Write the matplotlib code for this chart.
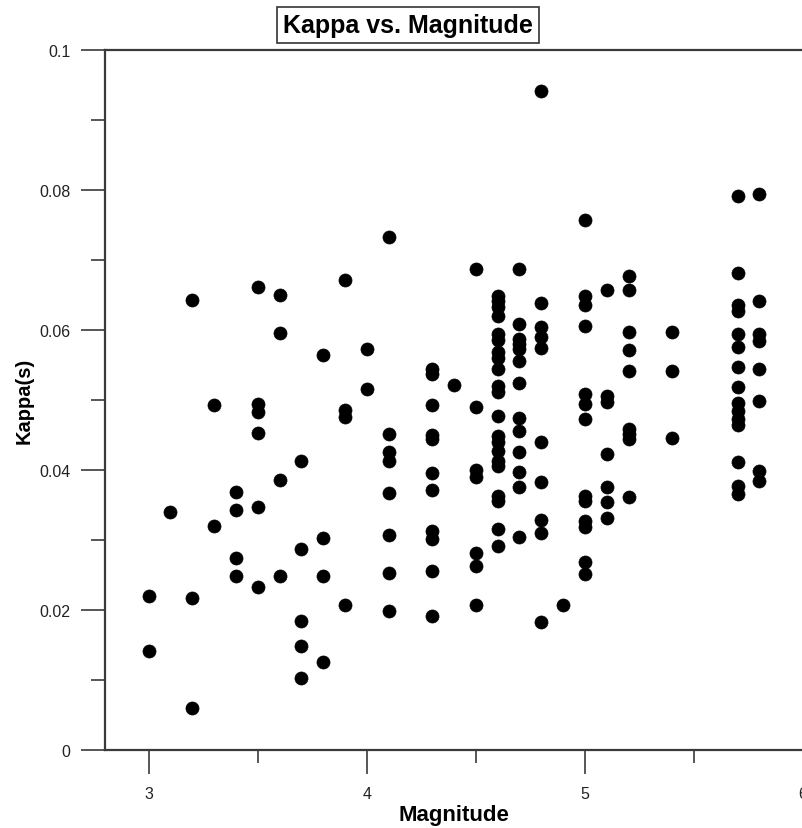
import matplotlib
matplotlib.use("Agg")
import matplotlib.pyplot as plt
from matplotlib.ticker import MultipleLocator, FixedLocator

plt.rcParams['font.family'] = ['Liberation Sans', 'DejaVu Sans']

# Magnitude groups and the kappa values read for each
magnitudes = [3.0, 3.1, 3.2, 3.3, 3.4, 3.5, 3.6, 3.7, 3.8, 3.9, 4.0, 4.1, 4.3, 4.4,
              4.5, 4.6, 4.7, 4.8, 4.9, 5.0, 5.1, 5.2, 5.4, 5.7, 5.8]
kappa_m30 = [0.0220, 0.0141]
kappa_m31 = [0.0340]
kappa_m32 = [0.0643, 0.0217, 0.0060]
kappa_m33 = [0.0493, 0.0320]
kappa_m34 = [0.0369, 0.0343, 0.0274, 0.0249]
kappa_m35 = [0.0661, 0.0494, 0.0483, 0.0453, 0.0347, 0.0233]
kappa_m36 = [0.0650, 0.0596, 0.0386, 0.0249]
kappa_m37 = [0.0413, 0.0287, 0.0184, 0.0149, 0.0103]
kappa_m38 = [0.0564, 0.0303, 0.0249, 0.0126]
kappa_m39 = [0.0671, 0.0486, 0.0476, 0.0207]
kappa_m40 = [0.0573, 0.0516]
kappa_m41 = [0.0733, 0.0451, 0.0426, 0.0413, 0.0367, 0.0307, 0.0253, 0.0199]
kappa_m43 = [0.0544, 0.0537, 0.0493, 0.0450, 0.0444, 0.0396, 0.0371, 0.0313, 0.0301,
             0.0256, 0.0191]
kappa_m44 = [0.0521]
kappa_m45 = [0.0687, 0.0490, 0.0400, 0.0390, 0.0281, 0.0263, 0.0207]
kappa_m46 = [0.0649, 0.0641, 0.0633, 0.0620, 0.0594, 0.0586, 0.0569, 0.0560, 0.0544,
             0.0520, 0.0511, 0.0477, 0.0449, 0.0440, 0.0427, 0.0413, 0.0406, 0.0363,
             0.0356, 0.0316, 0.0291]
kappa_m47 = [0.0687, 0.0609, 0.0587, 0.0580, 0.0573, 0.0556, 0.0524, 0.0474, 0.0456,
             0.0426, 0.0397, 0.0376, 0.0304]
kappa_m48 = [0.0941, 0.0639, 0.0604, 0.0590, 0.0574, 0.0440, 0.0383, 0.0329, 0.0310,
             0.0183]
kappa_m49 = [0.0207]
kappa_m50 = [0.0757, 0.0649, 0.0636, 0.0606, 0.0509, 0.0494, 0.0473, 0.0363, 0.0356,
             0.0327, 0.0319, 0.0269, 0.0251]
kappa_m51 = [0.0657, 0.0506, 0.0497, 0.0423, 0.0376, 0.0354, 0.0331]
kappa_m52 = [0.0677, 0.0657, 0.0597, 0.0571, 0.0541, 0.0459, 0.0451, 0.0444, 0.0361]
kappa_m54 = [0.0597, 0.0541, 0.0446]
kappa_m57 = [0.0791, 0.0681, 0.0636, 0.0627, 0.0594, 0.0576, 0.0547, 0.0519, 0.0496,
             0.0484, 0.0473, 0.0464, 0.0411, 0.0377, 0.0366]
kappa_m58 = [0.0794, 0.0641, 0.0594, 0.0584, 0.0544, 0.0499, 0.0399, 0.0384]

kappa_groups = [kappa_m30, kappa_m31, kappa_m32, kappa_m33, kappa_m34, kappa_m35,
                kappa_m36, kappa_m37, kappa_m38, kappa_m39, kappa_m40, kappa_m41,
                kappa_m43, kappa_m44, kappa_m45, kappa_m46, kappa_m47, kappa_m48,
                kappa_m49, kappa_m50, kappa_m51, kappa_m52, kappa_m54, kappa_m57,
                kappa_m58]

x_ticks = [3, 4, 5, 6]
y_ticks = [0, 0.02, 0.04, 0.06, 0.08, 0.1]
y_tick_labels = ['0', '0.02', '0.04', '0.06', '0.08', '0.1']

xs, ys = [], []
for m, grp in zip(magnitudes, kappa_groups):
    for k in grp:
        xs.append(m)
        ys.append(k)

W, H = 803, 829
fig = plt.figure(figsize=(W / 100, H / 100), dpi=100)
ax = fig.add_axes([105 / W, (H - 751) / H, (803 - 105) / W, (751 - 51) / H])

ax.plot(xs, ys, linestyle='none', marker='o', markersize=9.4,
        markerfacecolor='black', markeredgecolor='black', markeredgewidth=0.5)

ax.set_xlim(2.8, 6.0)
ax.set_ylim(0, 0.1)
ax.xaxis.set_major_locator(FixedLocator(x_ticks))
ax.xaxis.set_minor_locator(MultipleLocator(0.5))
ax.yaxis.set_major_locator(FixedLocator(y_ticks))
ax.set_yticklabels(y_tick_labels)
ax.yaxis.set_minor_locator(MultipleLocator(0.01))

spine_col = '#3a3a3a'
for side in ['left', 'bottom', 'top']:
    ax.spines[side].set_color(spine_col)
    ax.spines[side].set_linewidth(1.6)
ax.spines['right'].set_color('#c8c8c8')
ax.spines['right'].set_linewidth(1.0)

ax.tick_params(axis='both', which='major', direction='out', length=17, width=1.2,
               color=spine_col, labelsize=11.5, labelcolor='#222222')
ax.tick_params(axis='x', which='minor', direction='out', length=9, width=1.2,
               color=spine_col)
ax.tick_params(axis='y', which='minor', direction='out', length=10, width=1.2,
               color=spine_col)
ax.tick_params(axis='y', which='major', pad=8)
ax.tick_params(axis='x', which='major', pad=9)

ax.set_xlabel('Magnitude', fontsize=16, fontweight='bold', labelpad=2)
ax.set_ylabel('Kappa(s)', fontsize=14.5, fontweight='bold', labelpad=4)

fig.text(408 / W, 1 - 26 / H, 'Kappa vs. Magnitude', ha='center', va='center',
         fontsize=18, fontweight='bold',
         bbox=dict(boxstyle='square,pad=0.25', facecolor='white',
                   edgecolor='#333333', linewidth=1.2))

fig.savefig('out.png', dpi=100)
